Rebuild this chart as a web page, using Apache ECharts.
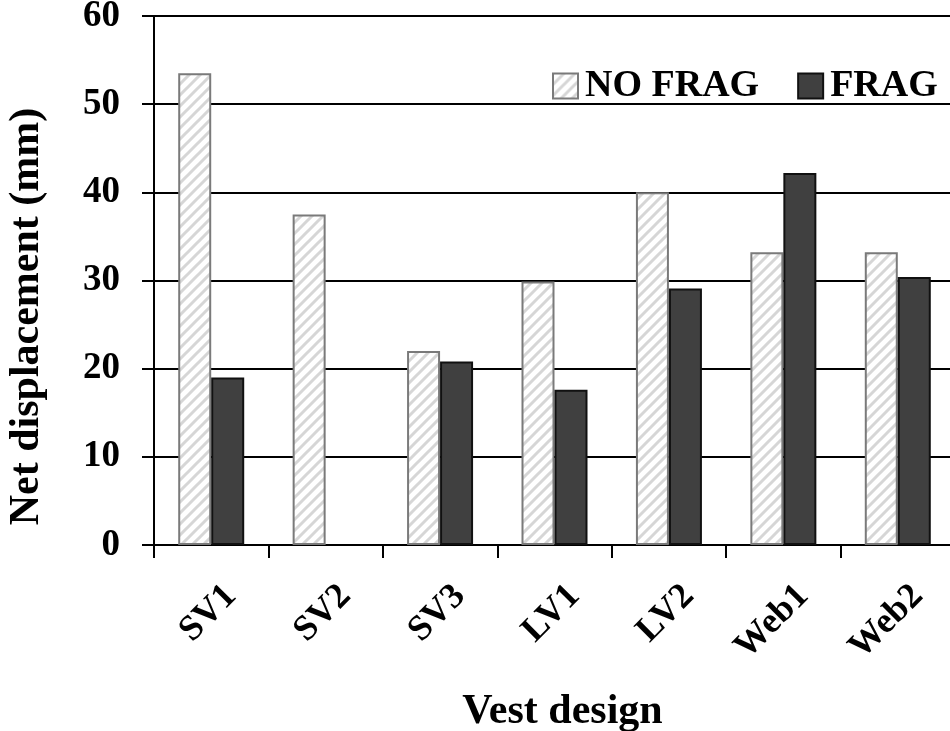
<!DOCTYPE html>
<html>
<head>
<meta charset="utf-8">
<script src="https://cdn.jsdelivr.net/npm/echarts@6/dist/echarts.min.js"></script>
<style>
html,body{margin:0;padding:0;background:#fff;}
#chart{width:950px;height:731px;}
</style>
</head>
<body>
<div id="chart"></div>
<script>
var categories = ['SV1', 'SV2', 'SV3', 'LV1', 'LV2', 'Web1', 'Web2'];
var noFrag = [53.5, 37.5, 22.0, 29.9, 40.0, 33.2, 33.2];
var frag = [19.0, null, 20.8, 17.6, 29.1, 42.2, 30.4];
var yTicks = [0, 10, 20, 30, 40, 50, 60];
var seriesNames = ['NO FRAG', 'FRAG'];
var xTitle = 'Vest design';
var yTitle = 'Net displacement (mm)';

function hatch() {
  var c = document.createElement('canvas');
  c.width = 11; c.height = 11;
  var g = c.getContext('2d');
  g.fillStyle = '#ffffff';
  g.fillRect(0, 0, 11, 11);
  g.strokeStyle = '#d6d6d6';
  g.lineWidth = 3;
  g.beginPath();
  g.moveTo(-5.5, 5.5); g.lineTo(5.5, -5.5);
  g.moveTo(0, 11); g.lineTo(11, 0);
  g.moveTo(5.5, 16.5); g.lineTo(16.5, 5.5);
  g.stroke();
  return c;
}

var FONT = '"Liberation Serif", "Times New Roman", serif';
var chart = echarts.init(document.getElementById('chart'), null, {renderer: 'canvas'});
chart.setOption({
  animation: false,
  backgroundColor: '#ffffff',
  textStyle: {fontFamily: FONT, fontWeight: 'bold', color: '#000'},
  grid: {left: 154, top: 16, width: 801, height: 529, containLabel: false, outerBoundsMode: 'none'},
  legend: {
    left: 547, top: 62,
    itemWidth: 25, itemHeight: 25, itemGap: 38,
    icon: 'rect',
    textStyle: {fontFamily: FONT, fontWeight: 'bold', fontSize: 38, color: '#000', padding: [0, 0, 0, 2]},
    data: seriesNames
  },
  xAxis: {
    type: 'category',
    data: categories,
    name: xTitle,
    nameLocation: 'middle',
    nameGap: 146,
    nameTextStyle: {fontFamily: FONT, fontWeight: 'bold', fontSize: 42, color: '#000', padding: [0, 0, 0, 16]},
    axisLine: {lineStyle: {color: '#000', width: 2}},
    axisTick: {show: true, length: 13, inside: false, lineStyle: {color: '#000', width: 2}},
    axisLabel: {rotate: 45, margin: 26, verticalAlign: 'top', lineHeight: 56,
      fontFamily: FONT, fontWeight: 'bold', fontSize: 36, color: '#000'},
    splitLine: {show: false}
  },
  yAxis: {
    type: 'value',
    min: 0, max: 60, interval: 10,
    name: yTitle,
    nameLocation: 'middle',
    nameGap: 106,
    nameTextStyle: {fontFamily: FONT, fontWeight: 'bold', fontSize: 42, color: '#000', padding: [0, 72, 0, 0]},
    axisLine: {show: true, lineStyle: {color: '#000', width: 2}},
    axisTick: {show: true, length: 12, inside: false, lineStyle: {color: '#000', width: 2}},
    axisLabel: {margin: 34, fontFamily: FONT, fontWeight: 'bold', fontSize: 37, color: '#000',
      formatter: function (v) { return yTicks.indexOf(v) >= 0 ? String(v) : ''; }},
    splitLine: {show: true, lineStyle: {color: '#000', width: 2}}
  },
  series: [
    {
      name: seriesNames[0], type: 'bar', data: noFrag,
      barWidth: 33, barGap: '0%',
      itemStyle: {color: {image: hatch(), repeat: 'repeat'}, borderColor: '#7a7a7a', borderWidth: 2}
    },
    {
      name: seriesNames[1], type: 'bar', data: frag,
      barWidth: 33, barGap: '0%',
      itemStyle: {color: '#404040', borderColor: '#111', borderWidth: 2}
    }
  ]
});
</script>
</body>
</html>
